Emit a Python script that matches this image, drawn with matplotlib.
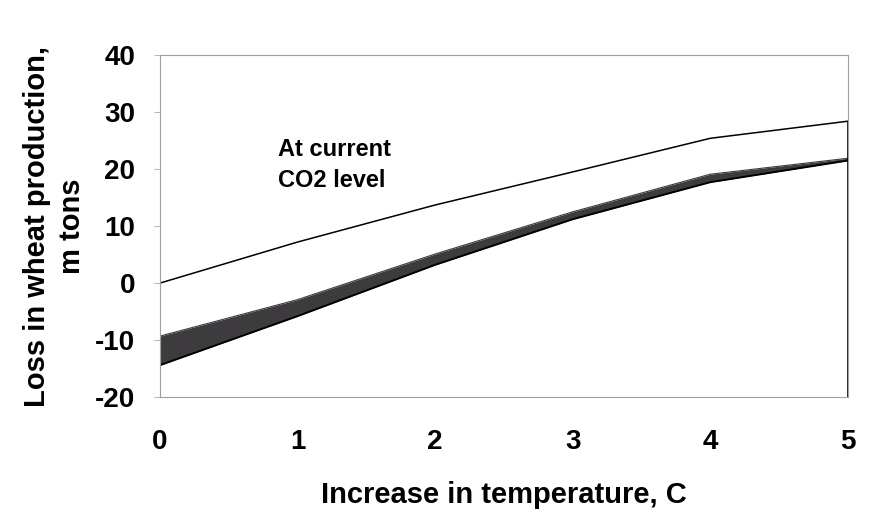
import numpy as np
import matplotlib
matplotlib.use("Agg")
import matplotlib.pyplot as plt

# values
temp_increase = [0, 1, 2, 3, 4, 5]
loss_current_co2 = [0.0, 7.2, 13.7, 19.5, 25.4, 28.4]
band_upper = [-9.3, -2.9, 5.1, 12.5, 19.1, 21.9]
band_lower = [-14.4, -5.8, 3.2, 11.2, 17.7, 21.5]

y_ticks = [-20, -10, 0, 10, 20, 30, 40]
x_ticks = [0, 1, 2, 3, 4, 5]

plt.rcParams['font.family'] = ['Liberation Sans', 'DejaVu Sans']
plt.rcParams['axes.unicode_minus'] = False

fig = plt.figure(figsize=(8.84, 5.15), dpi=100)
ax = fig.add_axes([0.181, 0.229, 0.778, 0.664])

# upper line, current CO2
ax.plot(temp_increase, loss_current_co2, color='black', lw=1.1)

# shaded band (higher CO2 range)
ax.fill_between(temp_increase, band_lower, band_upper, color='#3d3b3e', lw=0)
ax.plot(temp_increase, band_lower, color='black', lw=1.4)
ax.plot(temp_increase, band_upper, color='#3d3b3e', lw=0.8)

# the black edge on the right, from the bottom up to the upper line
ax.vlines(temp_increase[-1], y_ticks[0], loss_current_co2[-1], color='black', lw=1.2)

ax.set_xlim(temp_increase[0], temp_increase[-1])
ax.set_ylim(y_ticks[0], y_ticks[-1])
ax.set_xticks(x_ticks)
ax.set_yticks(y_ticks)

for side in ['top', 'left', 'bottom', 'right']:
    ax.spines[side].set_color('#a0a0a0')
    ax.spines[side].set_linewidth(0.8)
    ax.spines[side].set_linestyle((0, (2, 1)))

ax.tick_params(axis='x', length=0, pad=23, labelsize=20)
ax.tick_params(axis='y', length=4, color='#c0b4cc', pad=14, labelsize=20)
for lbl in ax.get_xticklabels() + ax.get_yticklabels():
    lbl.set_fontweight('bold')

ax.set_xlabel('Increase in temperature, C', fontsize=21, fontweight='bold')
ax.xaxis.set_label_coords(0.5, -0.245)
ax.set_ylabel('Loss in wheat production,\nm tons', fontsize=21, fontweight='bold',
              linespacing=1.3)
ax.yaxis.set_label_coords(-0.108, 0.5)

ax.text(0.86, 20.7, 'At current\nCO2 level', fontsize=17, fontweight='bold',
        va='center', ha='left', linespacing=1.42)

fig.savefig('out.png', dpi=100, facecolor='white')
